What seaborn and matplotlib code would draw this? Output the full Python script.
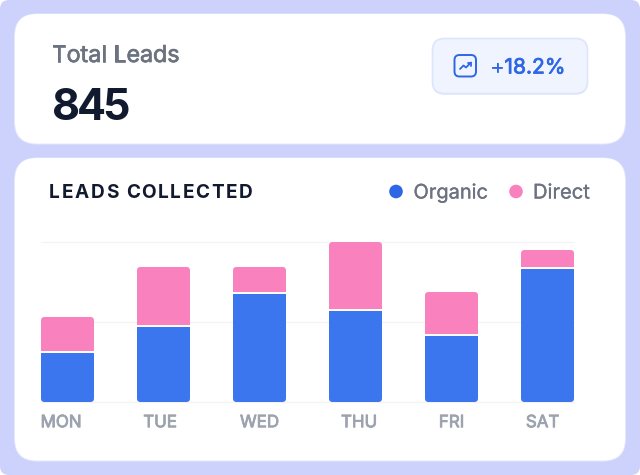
import numpy as np
import pandas as pd
import matplotlib
matplotlib.use("Agg")
import matplotlib.pyplot as plt
import matplotlib.patheffects as pe
from matplotlib.patches import FancyBboxPatch, Circle, PathPatch
from matplotlib.path import Path
from matplotlib.text import Text
import seaborn as sns

days = ["MON", "TUE", "WED", "THU", "FRI", "SAT"]
organic = [50, 76, 109, 92, 67, 134]
direct = [35, 59, 26, 68, 43, 18]
axis_max = 160
grid_values = [0, 80, 160]

W, H = 640, 475
BG = "#CDD2FC"
BLUE = "#3B76EE"
PINK = "#F982BE"
INK = "#111A2E"
SLATE = "#6B7280"
GREY = "#9CA3AF"
ACCENT = "#2F66E6"

sns.set_theme(style="white")
plt.rcParams["font.family"] = ["Inter", "DejaVu Sans"]

fig = plt.figure(figsize=(W / 100, H / 100), dpi=100, facecolor="white")

# Canvas in pixel units, y pointing down, for the cards and header text
page = fig.add_axes([0, 0, 1, 1], zorder=0)
page.set_xlim(0, W)
page.set_ylim(H, 0)
page.axis("off")


class TrackedText(Text):
    """One text object that draws its glyphs with extra spacing between them."""

    def __init__(self, *args, tracking=0.0, **kwargs):
        super().__init__(*args, **kwargs)
        self.tracking = tracking

    def draw(self, renderer):
        s = self.get_text()
        x, y = self.get_position()
        for i, ch in enumerate(s):
            w = renderer.get_text_width_height_descent(s[:i], self.get_fontproperties(), False)[0] if i else 0
            piece = Text(x + w + i * self.tracking, y, ch)
            piece.update_from(self)
            piece.set_transform(self.get_transform())
            piece.set_figure(self.get_figure())
            piece.draw(renderer)


def rounded(ax, x0, y0, x1, y1, r, **kw):
    patch = FancyBboxPatch((x0 + r, y0 + r), x1 - x0 - 2 * r, y1 - y0 - 2 * r,
                           boxstyle=f"round,pad={r},rounding_size={r}", **kw)
    ax.add_patch(patch)
    return patch


def label(x, y, s, size, color, extra=0.0, weight="normal", tracking=0.0):
    # Text weights between regular and bold come from a thin outline (extra)
    t = TrackedText(x, y, s, tracking=tracking, fontsize=size, color=color,
                    fontweight=weight, va="baseline", ha="left")
    t.set_transform(page.transData)
    page.add_artist(t)
    if extra:
        t.set_path_effects([pe.withStroke(linewidth=extra, foreground=color)])
    return t


rounded(page, 0, 0, W, H, 9, fc=BG, ec="none")
for y0, y1 in [(14, 143.5), (158, 460.5)]:
    rounded(page, 14, y0 - 0.5, 626, y1 + 1, 23, fc="#E6E8FD", ec="none")
    rounded(page, 15, y0, 625, y1, 22, fc="white", ec="none")

label(51.5, 62, "Total Leads", 16.8, SLATE, extra=0.5)
label(51.5, 120.5, "845", 31, INK, weight="bold", tracking=-3.0)

# Growth badge
rounded(page, 432, 39.5, 588, 95, 13, fc="#E9EDFC", ec="none")
rounded(page, 432.5, 38.5, 587.5, 93.5, 12, fc="#EFF4FF", ec="#DCE5FC", lw=1.2)
rounded(page, 454.5, 55, 476, 76.5, 5, fc="none", ec=ACCENT, lw=1.4)
page.plot([460, 463.5, 466, 471], [69, 65.5, 67.5, 62.5], color=ACCENT, lw=1.3,
          solid_capstyle="round", solid_joinstyle="round")
page.plot([467.5, 471, 471], [62.5, 62.5, 66], color=ACCENT, lw=1.3,
          solid_capstyle="round", solid_joinstyle="round")
label(490.5, 73.5, "+18.2%", 15.1, ACCENT, extra=0.55)

# Chart header and legend
label(49, 198, "LEADS COLLECTED", 13.7, INK, weight="bold", tracking=1.6)
page.add_patch(Circle((396, 191.5), 6.8, fc=ACCENT, ec="none"))
label(413.5, 198.5, "Organic", 14.4, SLATE, extra=0.2)
page.add_patch(Circle((516, 191.5), 6.8, fc=PINK, ec="none"))
label(533, 198.5, "Direct", 14.5, SLATE, extra=0.2)

# Stacked bars
frame = pd.DataFrame({"day": days, "organic": organic, "direct": direct})
ax = fig.add_axes([41 / W, (H - 402) / H, 533 / W, 160 / H], zorder=1)
ax.patch.set_alpha(0)
sns.barplot(frame, x="day", y="organic", color=BLUE, saturation=1, width=0.552,
            gap=0, ax=ax, zorder=3)
sns.barplot(frame, x="day", y="direct", bottom=frame["organic"], color=PINK, saturation=1,
            width=0.552, gap=0, ax=ax, zorder=3)
half = 0.276
ax.set_xlim(-half, len(days) - 1 + half)
ax.set_ylim(0, axis_max)
ax.set_xlabel("")
ax.set_ylabel("")
ax.set_yticks(grid_values)
ax.tick_params(axis="y", left=False, labelleft=False)
ax.tick_params(axis="x", bottom=False, pad=3.5)
ax.yaxis.grid(True, color="#F3F4F6", lw=0.9, clip_on=False)
ax.set_axisbelow(True)
sns.despine(ax=ax, left=True, bottom=True)

# Labels are spread edge to edge under the plot, so they sit off the bar centres
label_centres_px = [61, 160, 259.5, 359, 451.5, 542.5]
ax.set_xticks([(c - 41) / 96 - half for c in label_centres_px], labels=days,
              fontsize=12.2, color=GREY)
for tick in ax.get_xticklabels():
    tick.set_path_effects([pe.withStroke(linewidth=0.6, foreground=GREY)])


def corner_path(x, y, w, h, rx, ry, round_top, round_bottom):
    """Outline of a bar, in data units, with optionally rounded ends."""
    x1, y1 = x + w, y + h
    verts, codes = [], []
    if round_bottom:
        verts += [(x + rx, y), (x1 - rx, y), (x1, y), (x1, y + ry)]
        codes += [Path.MOVETO, Path.LINETO, Path.CURVE3, Path.CURVE3]
    else:
        verts += [(x, y), (x1, y)]
        codes += [Path.MOVETO, Path.LINETO]
    if round_top:
        verts += [(x1, y1 - ry), (x1, y1), (x1 - rx, y1), (x + rx, y1), (x, y1), (x, y1 - ry)]
        codes += [Path.LINETO, Path.CURVE3, Path.CURVE3, Path.LINETO, Path.CURVE3, Path.CURVE3]
    else:
        verts += [(x1, y1), (x, y1)]
        codes += [Path.LINETO, Path.LINETO]
    if round_bottom:
        verts += [(x, y + ry), (x, y), (x + rx, y)]
        codes += [Path.LINETO, Path.CURVE3, Path.CURVE3]
    else:
        verts += [(x, y)]
        codes += [Path.LINETO]
    return Path(verts, codes)


# Rebuild each bar with rounded outer corners and a white seam between segments
n = len(days)
bars = list(ax.patches)
rx, ry = 3.5 / 96, 3.5 * axis_max / 160
for i, bar in enumerate(bars):
    is_lower = i < n
    bar.set_visible(False)
    outline = corner_path(bar.get_x(), bar.get_y(), bar.get_width(), bar.get_height(),
                          rx, ry, not is_lower, is_lower)
    ax.add_patch(PathPatch(outline, fc=bar.get_facecolor(), ec="none", lw=0, zorder=3))
for i, bar in enumerate(bars[:n]):
    ax.plot([bar.get_x(), bar.get_x() + bar.get_width()], [organic[i]] * 2, color="white",
            lw=1.4, solid_capstyle="butt", zorder=4)

fig.savefig("out.png", dpi=100, facecolor=fig.get_facecolor())
